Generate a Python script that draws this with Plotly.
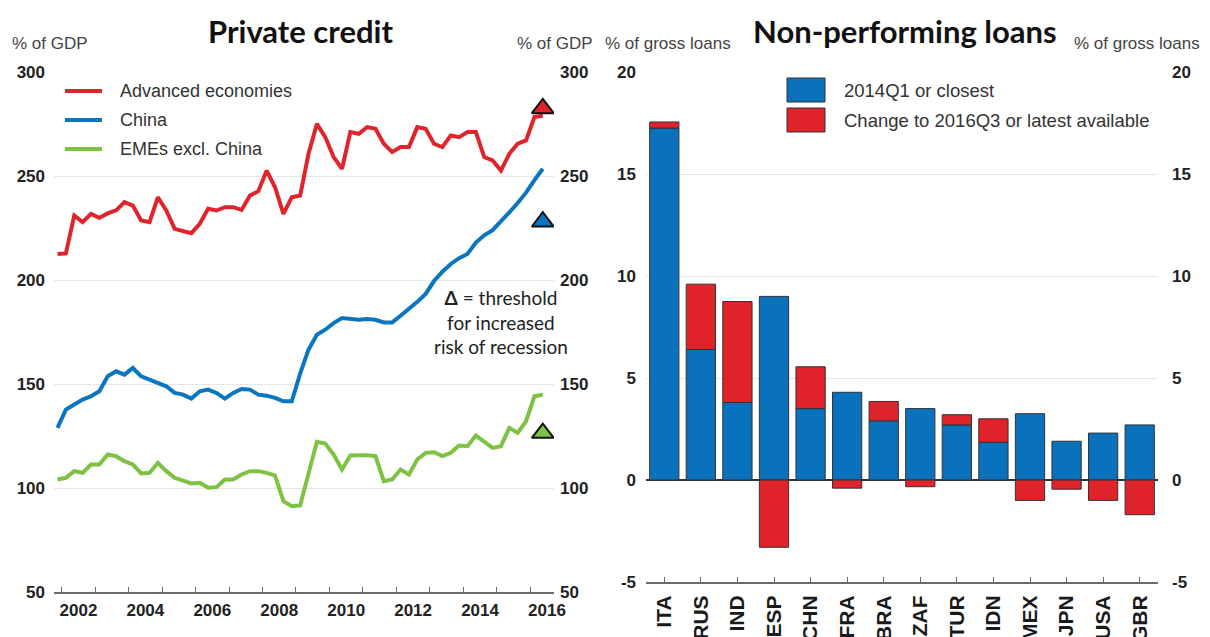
import plotly.graph_objects as go

# ---------------- data ----------------
quarters = [f"{y}Q{q}" for y in range(2001, 2017) for q in range(1, 5)][3:62]  # 2001Q4 .. 2016Q2

advanced = [212.5, 212.8, 231.0, 227.8, 231.8, 229.9, 232.0, 233.5, 237.4, 235.8,
            228.6, 227.8, 239.8, 233.4, 224.6, 223.5, 222.5, 227.0, 234.2, 233.4,
            235.0, 235.0, 233.7, 240.6, 242.7, 252.6, 244.6, 231.8, 239.8, 240.6,
            260.7, 275.1, 268.7, 259.1, 253.5, 271.1, 270.3, 273.5, 272.7, 265.5,
            261.5, 263.9, 263.9, 273.5, 272.7, 265.5, 263.9, 269.5, 268.7, 271.1,
            271.1, 259.1, 257.5, 252.6, 260.7, 265.5, 267.1, 278.3, 279.0]
china = [128.9, 137.7, 140.1, 142.5, 144.1, 146.5, 153.7, 156.1, 154.5, 157.7,
         153.7, 152.1, 150.5, 148.9, 145.7, 144.9, 143.0, 146.5, 147.3, 145.7,
         143.0, 145.7, 147.6, 147.3, 144.9, 144.4, 143.3, 141.7, 141.7, 155.0,
         166.5, 173.7, 176.1, 179.3, 181.7, 181.4, 180.9, 181.2, 180.9, 179.6,
         179.6, 182.8, 186.0, 189.5, 193.3, 199.5, 204.0, 207.7, 210.5, 212.5,
         218.0, 221.5, 224.0, 228.0, 232.5, 237.0, 242.0, 248.0, 253.5]
emes = [104.1, 104.9, 108.1, 107.3, 111.3, 111.3, 116.1, 115.3, 112.9, 111.3,
        107.0, 107.3, 112.1, 108.1, 104.9, 103.3, 102.2, 102.5, 100.1, 100.4,
        104.1, 104.1, 106.5, 108.1, 108.1, 107.3, 106.0, 93.7, 91.3, 91.6,
        107.3, 122.2, 121.4, 116.1, 108.9, 115.6, 115.8, 115.8, 115.3, 103.3,
        104.1, 108.9, 106.5, 113.7, 116.9, 117.2, 115.3, 116.9, 120.4, 120.1,
        125.2, 122.0, 119.3, 120.1, 128.9, 126.5, 132.1, 144.1, 144.9]
series_names = ["Advanced economies", "China", "EMEs excl. China"]
thresholds = [282.5, 228.0, 126.4]

countries = ["ITA", "RUS", "IND", "ESP", "CHN", "FRA", "BRA", "ZAF", "TUR", "IDN",
             "MEX", "JPN", "USA", "GBR"]
npl_2014q1 = [17.25, 6.4, 3.8, 9.0, 3.5, 4.3, 2.9, 3.5, 2.7, 1.85, 3.25, 1.9, 2.3, 2.7]
npl_change = [0.3, 3.2, 4.95, -3.3, 2.05, -0.4, 0.95, -0.33, 0.5, 1.15, -1.0, -0.45, -1.0, -1.7]
bar_names = ["2014Q1 or closest", "Change to 2016Q3 or latest available"]

year_ticks = list(range(2002, 2017))
year_labels = [str(y) for y in range(2002, 2017, 2)]
left_ticks = [50, 100, 150, 200, 250, 300]
right_ticks = [-5, 0, 5, 10, 15, 20]
right_tick_text = ["-5", "0", "5", "10", "15", "20"]

# ---------------- styling ----------------
RED, BLUE, GREEN = "#e0242b", "#0a76c0", "#7dc242"
BAR_BLUE, BAR_RED = "#0a72bd", "#e0222a"
FONT = "Liberation Sans, Arial, sans-serif"
TITLE_FONT = "Lato, sans-serif"
TXT = "#1a1a1a"
GRID = "#e6e6e6"

x_num = [int(q[:4]) + (int(q[-1]) - 1) / 4 + 0.125 for q in quarters]

fig = go.Figure()
for name, vals, col in zip(series_names, [advanced, china, emes], [RED, BLUE, GREEN]):
    fig.add_trace(go.Scatter(x=x_num, y=vals, mode="lines", name=name,
                             line=dict(color=col, width=4), xaxis="x", yaxis="y",
                             showlegend=False))
for th, col in zip(thresholds, [RED, BLUE, GREEN]):
    fig.add_trace(go.Scatter(x=[x_num[-1]], y=[th], mode="markers", showlegend=False,
                             marker=dict(symbol="triangle-up", size=19, color=col,
                                         line=dict(color="#111", width=2)),
                             xaxis="x", yaxis="y"))

fig.add_trace(go.Bar(x=countries, y=npl_2014q1, name=bar_names[0], marker_color=BAR_BLUE,
                     marker_line=dict(color="#333", width=1), width=0.8,
                     xaxis="x3", yaxis="y3", showlegend=False))
fig.add_trace(go.Bar(x=countries, y=npl_change, name=bar_names[1], marker_color=BAR_RED,
                     marker_line=dict(color="#333", width=1), width=0.8,
                     xaxis="x3", yaxis="y3", showlegend=False))

# invisible traces to activate right-side axes
fig.add_trace(go.Scatter(x=[x_num[0]], y=[None], xaxis="x", yaxis="y2", showlegend=False,
                         hoverinfo="skip"))
fig.add_trace(go.Scatter(x=[countries[0]], y=[None], xaxis="x3", yaxis="y4",
                         showlegend=False, hoverinfo="skip"))

W, H = 1210, 637
def px(x): return x / W
def py(y): return 1 - y / H

tickfont = dict(family=FONT, size=17, color="#222", weight="bold")

fig.update_layout(
    width=W, height=H, margin=dict(l=0, r=0, t=0, b=0),
    paper_bgcolor="white", plot_bgcolor="white", barmode="relative",
    font=dict(family=FONT, size=17, color=TXT), showlegend=False,
    xaxis=dict(domain=[px(54), px(554)], anchor="y", range=[2001.77, 2016.71],
               tickmode="array", tickvals=[y + 0.5 for y in range(2002, 2017, 2)],
               ticktext=year_labels, ticks="", showgrid=False, zeroline=False,
               showline=True, linecolor="#6b6b6b", linewidth=2,
               minor=dict(tickmode="array", tickvals=year_ticks, ticks="inside",
                          ticklen=5, tickcolor="#6b6b6b", tickwidth=1, showgrid=False),
               tickfont=tickfont, ticklabelstandoff=2, automargin=False),
    yaxis=dict(domain=[py(592), py(72)], anchor="x", range=[50, 300],
               tickmode="array", tickvals=left_ticks,
               showgrid=True, gridcolor=GRID, gridwidth=1, zeroline=False,
               showline=False, ticks="", tickfont=tickfont, ticklabelstandoff=8,
               automargin=False),
    yaxis2=dict(overlaying="y", anchor="x", side="right", range=[50, 300],
                tickmode="array", tickvals=left_ticks,
                showgrid=False, zeroline=False, showline=False, ticks="",
                tickfont=tickfont, ticklabelstandoff=5, automargin=False),
    xaxis3=dict(domain=[px(646), px(1158)], anchor="y3", type="category",
                ticks="inside", ticklen=5, tickcolor="#6b6b6b", showgrid=False,
                showline=True, linecolor="#6b6b6b", linewidth=2, tickangle=-90,
                tickfont=dict(family=FONT, size=21, color=TXT, weight="bold"),
                ticklabelstandoff=3, automargin=False, range=[-0.5, 13.5]),
    yaxis3=dict(domain=[py(582), py(72)], anchor="x3", range=[-5, 20],
                tickmode="array", tickvals=right_ticks, ticktext=right_tick_text,
                showgrid=True, gridcolor=GRID, zeroline=True, zerolinecolor="#333",
                zerolinewidth=1.5, showline=False, ticks="", tickfont=tickfont,
                ticklabelstandoff=9, automargin=False),
    yaxis4=dict(overlaying="y3", anchor="x3", side="right", range=[-5, 20],
                tickmode="array", tickvals=right_ticks, ticktext=right_tick_text,
                showgrid=False, zeroline=False, showline=False, ticks="",
                tickfont=tickfont, ticklabelstandoff=13, automargin=False),
)

ann = []
shapes = []
ann.append(dict(text="<b>Private credit</b>", x=px(300), y=py(31), xref="paper", yref="paper",
                xanchor="center", yanchor="middle", showarrow=False,
                font=dict(family=TITLE_FONT, size=31, color="#111")))
ann.append(dict(text="<b>Non-performing loans</b>", x=px(905), y=py(31), xref="paper",
                yref="paper", xanchor="center", yanchor="middle", showarrow=False,
                font=dict(family=TITLE_FONT, size=31, color="#111")))
sub = dict(family=FONT, size=17, color="#444")
for txt, x, anchor in [("% of GDP", 10, "left"), ("% of GDP", 595, "right"),
                       ("% of gross loans", 603, "left"), ("% of gross loans", 1202, "right")]:
    ann.append(dict(text=txt, x=px(x), y=py(43), xref="paper", yref="paper",
                    xanchor=anchor, yanchor="middle", showarrow=False, font=sub))
ann.append(dict(text="<b>Δ</b> = threshold<br>for increased<br>risk of recession",
                x=px(501), y=py(322), xref="paper", yref="paper", showarrow=False,
                xanchor="center", yanchor="middle", align="center",
                font=dict(family=TITLE_FONT, size=19, color="#222")))

# legend for line chart
for i, (name, col) in enumerate(zip(series_names, [RED, BLUE, GREEN])):
    yc = 91 + i * 29
    shapes.append(dict(type="line", xref="paper", yref="paper", x0=px(65), x1=px(102),
                       y0=py(yc), y1=py(yc), line=dict(color=col, width=4)))
    ann.append(dict(text=name, x=px(118), y=py(yc), xref="paper", yref="paper",
                    xanchor="left", yanchor="middle", showarrow=False,
                    font=dict(family=FONT, size=18, color="#333")))

# legend for bar chart
for i, (name, col) in enumerate(zip(bar_names, [BAR_BLUE, BAR_RED])):
    y0 = 78 + i * 30
    shapes.append(dict(type="rect", xref="paper", yref="paper", x0=px(787), x1=px(825),
                       y0=py(y0), y1=py(y0 + 24), fillcolor=col,
                       line=dict(color="#333", width=1)))
    ann.append(dict(text=name, x=px(842), y=py(y0 + 12), xref="paper", yref="paper",
                    xanchor="left", yanchor="middle", showarrow=False,
                    font=dict(family=FONT, size=18.5, color="#333")))
fig.update_layout(annotations=ann, shapes=shapes)

fig.write_html("out.html", config={"displayModeBar": False},
               post_script="document.body.style.margin='0';")
